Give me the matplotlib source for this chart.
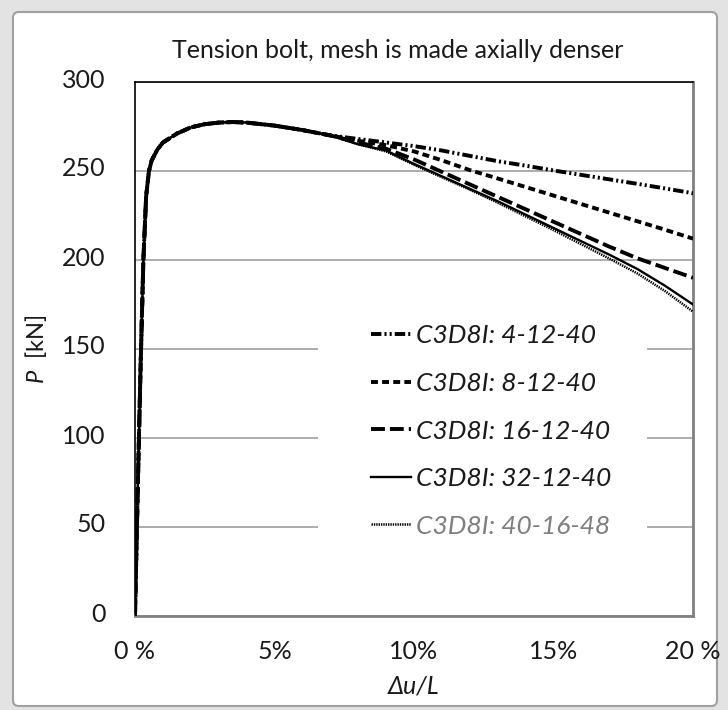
import matplotlib
matplotlib.use("Agg")
import matplotlib.pyplot as plt
import matplotlib.transforms as mtransforms
from matplotlib.patches import FancyBboxPatch, Rectangle

plt.rcParams['font.family'] = ['Lato', 'DejaVu Sans']
plt.rcParams['mathtext.fontset'] = 'custom'
plt.rcParams['mathtext.it'] = 'Lato:italic'
plt.rcParams['mathtext.rm'] = 'Lato'
plt.rcParams['lines.scale_dashes'] = False

# strain in %, load in kN
# part of the curve that all meshes share
strain_common = [0, 0.1, 0.2, 0.3, 0.4, 0.5, 0.6, 0.8, 1.0, 1.5, 2.0, 2.5,
                 3.0, 3.5, 4.0, 5.0, 6.0, 7.0]
load_common = [0, 72, 140, 200, 236, 250, 256, 262, 266, 271, 274.5, 276.3,
               277.2, 277.5, 277.2, 275.5, 273, 270]

# after ~7% the meshes diverge
strain_tail = [8, 9, 10, 11, 12, 13, 14, 15, 16, 17, 18, 19, 20]
load_4_12_40 = [268, 266, 264, 261.5, 258.5, 255.5, 253, 250.3, 247.8, 245.3, 242.8, 240.2, 237.5]
load_8_12_40 = [267, 264.5, 261, 256, 250.5, 245.8, 241, 236.2, 231.4, 226.6, 221.8, 217, 212]
load_16_12_40 = [266, 262.5, 256.5, 249.5, 242.5, 235.5, 228.5, 221.5, 214.5, 207.5, 201, 195.5, 190]
load_32_12_40 = [265, 261.5, 254, 247, 240, 233, 225.5, 218, 210.5, 203, 195, 185.5, 175]
load_40_16_48 = [265, 261, 253.5, 246.5, 239.5, 232.2, 224.5, 216.8, 208.8, 200.8, 192.5, 182.5, 171]

labels = ["C3D8I: 4-12-40", "C3D8I: 8-12-40", "C3D8I: 16-12-40",
          "C3D8I: 32-12-40", "C3D8I: 40-16-48"]
x_ticks = [0, 5, 10, 15, 20]
x_ticklabels = ["0 %", "5%", "10%", "15%", "20 %"]
y_ticks = [0, 50, 100, 150, 200, 250, 300]

fig = plt.figure(figsize=(7.28, 7.10), dpi=100, facecolor='#e3e3e3')

# white rounded panel like the Excel chart area
panel = FancyBboxPatch((13 / 728, 1 - 706 / 710), 704 / 728, 694 / 710,
                       boxstyle='round,pad=0,rounding_size=0.008',
                       transform=fig.transFigure, fc='white', ec='#a0a0a0', lw=1.5,
                       zorder=-10)
fig.patches.append(panel)

ax = fig.add_axes([135 / 728, 1 - 616 / 710, 558 / 728, 534 / 710])

styles = [
    dict(lw=2.8, dashes=(7.5, 2.2, 1.5, 2.2, 1.5, 2.2)),
    dict(lw=2.8, dashes=(5, 3)),
    dict(lw=2.8, dashes=(10, 3.6)),
    dict(lw=1.7),
    dict(lw=1.8, dashes=(1, 0.7)),
]
tails = [load_4_12_40, load_8_12_40, load_16_12_40, load_32_12_40, load_40_16_48]

for lab, tail, st in zip(labels, tails, styles):
    ax.plot(strain_common + strain_tail, load_common + tail, color='black',
            label=lab, zorder=3, **st)

ax.set_xlim(0, 20)
ax.set_ylim(0, 300)
ax.set_xticks(x_ticks)
ax.set_xticklabels(x_ticklabels)
ax.set_yticks(y_ticks)
ax.tick_params(length=0, labelsize=18, colors='#1a1a1a')
ax.tick_params(axis='y', pad=21)
ax.tick_params(axis='x', pad=17)

# excel puts the value labels a little above the gridline
shift = mtransforms.ScaledTranslation(0, 4 / 100, fig.dpi_scale_trans)
for lbl in ax.get_yticklabels():
    lbl.set_transform(lbl.get_transform() + shift)

ax.yaxis.grid(True, color='#a6a6a6', lw=1.3)
ax.set_axisbelow(True)

for side in ['top', 'left']:
    ax.spines[side].set_color('black')
    ax.spines[side].set_linewidth(1.2)
for side in ['right', 'bottom']:
    ax.spines[side].set_color('#808080')
    ax.spines[side].set_linewidth(2)

ax.set_xlabel("Δu/L", fontsize=18, fontstyle='italic', color='#1a1a1a')
ax.xaxis.set_label_coords(0.5, -0.11)
ax.set_ylabel("$P$  [kN]", fontsize=17, color='#1a1a1a')
ax.yaxis.set_label_coords(-0.155, 0.5)

fig.text(398 / 728, 1 - 50 / 710, "Tension bolt, mesh is made axially denser",
         ha='center', va='center', fontsize=18, color='#1a1a1a')

# white area behind the legend that hides the gridlines
ax.add_patch(Rectangle((0.328, 0.10), 0.59, 0.50, transform=ax.transAxes,
                       fc='white', ec='none', zorder=1.5))

leg = ax.legend(loc='center left', bbox_to_anchor=(0.3996, 0.3464), frameon=False,
                prop={'size': 19, 'style': 'italic'}, borderpad=0,
                handlelength=1.5, handletextpad=0.2, labelspacing=0.93)
leg.set_zorder(4)
for t in leg.get_texts():
    t.set_color('#1a1a1a')
leg.get_texts()[4].set_color('#7f7f7f')

fig.savefig("out.png", dpi=100, facecolor=fig.get_facecolor())
